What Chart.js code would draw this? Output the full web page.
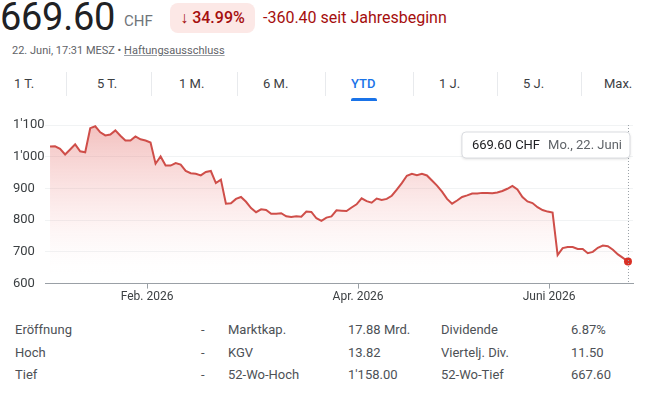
<!DOCTYPE html>
<html>
<head>
<meta charset="utf-8">
<script src="https://cdn.jsdelivr.net/npm/chart.js@4"></script>
<style>
  body { margin: 0; width: 650px; height: 396px; background: #fff; font-family: Roboto, "Open Sans", sans-serif; color: #3c4043; position: relative; overflow: hidden; }
  .price { position: absolute; left: 0; top: -5px; font-size: 38px; color: #202124; letter-spacing: -0.3px; }
  .cur { position: absolute; left: 124px; top: 12px; font-size: 15px; color: #70757a; }
  .badge { position: absolute; left: 170px; top: 3px; width: 85px; height: 30px; background: #fce8e6; border-radius: 8px; color: #a50e0e; font-size: 16px; font-weight: 500; line-height: 30px; text-align: center; }
  .chg { position: absolute; left: 263px; top: 8px; font-size: 16px; color: #a50e0e; }
  .sub { position: absolute; left: 12px; top: 44px; font-size: 11px; color: #5f6368; }
  .sub u { text-decoration-color: #9aa0a6; }
  .tab { position: absolute; top: 76px; font-size: 13px; color: #3c4043; }
  .tab.on { color: #1a73e8; font-weight: 500; }
  .sep { position: absolute; top: 72px; width: 1px; height: 24px; background: #e8eaed; }
  .bar { position: absolute; left: 351px; top: 98px; width: 26px; height: 3px; border-radius: 2px 2px 0 0; background: #1a73e8; }
  #wrap { position: absolute; left: 0; top: 110px; width: 650px; height: 195px; }
  .st { position: absolute; font-size: 13px; color: #4d5156; }
</style>
</head>
<body>
<div class="price">669.60</div>
<div class="cur">CHF</div>
<div class="badge">↓ 34.99%</div>
<div class="chg">-360.40 seit Jahresbeginn</div>
<div class="sub">22. Juni, 17:31 MESZ • <u>Haftungsausschluss</u></div>
<div id="tabs"></div>
<div class="bar"></div>
<div id="wrap"><canvas id="stockChart"></canvas></div>
<div id="stats"></div>
<script>
// one value per trading day, 5 Jan - 22 Jun 2026
const closes = [
  1032, 1033, 1025, 1007, 1023, 1039, 1017, 1014, 1090, 1096,
  1077, 1067, 1070, 1083, 1066, 1051, 1051, 1064, 1055, 1051,
  1045, 978, 1001, 972, 972, 980, 975, 955, 948, 946,
  941, 952, 955, 917, 928, 852, 853, 867, 873, 858,
  838, 825, 834, 832, 820, 820, 822, 812, 810, 812,
  811, 827, 826, 806, 798, 808, 812, 831, 830, 829,
  840, 850, 869, 860, 855, 868, 864, 867, 877, 896,
  917, 940, 946, 942, 946, 941, 925, 909, 890, 867,
  852, 862, 873, 878, 884, 884, 886, 886, 885, 887,
  892, 899, 908, 897, 873, 859, 854, 841, 832, 827,
  824, 690, 712, 715, 715, 709, 709, 696, 700, 713,
  720, 718, 707, 692, 681, 669.6
];
const days = closes.map((v, i) => i);

// month starts, as trading-day positions
const xTickAt = [19.3, 61.3, 99.3];
const xTickLabels = ['Feb. 2026', 'Apr. 2026', 'Juni 2026'];
const yTickValues = [600, 700, 800, 900, 1000, 1100];
const yTickLabels = ['600', '700', '800', '900', "1'000", "1'100"];

const tabNames = ['1 T.', '5 T.', '1 M.', '6 M.', 'YTD', '1 J.', '5 J.', 'Max.'];
const tabLeft = [14, 97, 179, 263, 351, 439, 523, 604];
const sepLeft = [66, 151, 237, 325, 413, 497, 581];

const statLabels1 = ['Eröffnung', 'Hoch', 'Tief'];
const statValues1 = ['-', '-', '-'];
const statLabels2 = ['Marktkap.', 'KGV', '52-Wo-Hoch'];
const statValues2 = ['17.88 Mrd.', '13.82', "1'158.00"];
const statLabels3 = ['Dividende', 'Viertelj. Div.', '52-Wo-Tief'];
const statValues3 = ['6.87%', '11.50', '667.60'];

const tabs = document.getElementById('tabs');
tabNames.forEach((t, i) => {
  const d = document.createElement('div');
  d.className = 'tab' + (t === 'YTD' ? ' on' : '');
  d.style.left = tabLeft[i] + 'px';
  d.textContent = t;
  tabs.appendChild(d);
});
sepLeft.forEach(x => {
  const s = document.createElement('div');
  s.className = 'sep';
  s.style.left = x + 'px';
  tabs.appendChild(s);
});

const stats = document.getElementById('stats');
const cols = [[statLabels1, 15], [statValues1, 201], [statLabels2, 228], [statValues2, 348], [statLabels3, 441], [statValues3, 571]];
cols.forEach(([arr, x]) => {
  arr.forEach((t, r) => {
    const d = document.createElement('div');
    d.className = 'st';
    d.style.left = x + 'px';
    d.style.top = (322 + r * 22.5) + 'px';
    d.textContent = t;
    stats.appendChild(d);
  });
});

const LINE = '#cf4e49';
const last = closes.length - 1;

const lastPointBox = {
  id: 'lastPointBox',
  afterDatasetsDraw(chart) {
    const { ctx, chartArea, scales } = chart;
    const px = scales.x.getPixelForValue(days[last]);
    ctx.save();
    ctx.strokeStyle = '#9aa0a6';
    ctx.lineWidth = 1;
    ctx.setLineDash([1, 2]);
    ctx.beginPath();
    ctx.moveTo(px + 0.5, chartArea.top);
    ctx.lineTo(px + 0.5, chartArea.bottom);
    ctx.stroke();
    ctx.setLineDash([]);

    ctx.font = '13px Roboto';
    const t1 = closes[last].toFixed(2) + ' CHF';
    const t2 = 'Mo., 22. Juni';
    const w1 = ctx.measureText(t1).width;
    const w2 = ctx.measureText(t2).width;
    const w = 10 + w1 + 8 + w2 + 8;
    const h = 26;
    const bx = px + 2 - w;
    const by = chartArea.top + 7;
    ctx.shadowColor = 'rgba(0,0,0,0.15)';
    ctx.shadowBlur = 3;
    ctx.shadowOffsetY = 1;
    ctx.fillStyle = '#fff';
    ctx.beginPath();
    ctx.roundRect(bx, by, w, h, 4);
    ctx.fill();
    ctx.shadowColor = 'transparent';
    ctx.strokeStyle = '#dadce0';
    ctx.stroke();
    ctx.textBaseline = 'middle';
    ctx.fillStyle = '#202124';
    ctx.fillText(t1, bx + 10, by + h / 2 + 1);
    ctx.fillStyle = '#5f6368';
    ctx.fillText(t2, bx + 10 + w1 + 8, by + h / 2 + 1);
    ctx.restore();
  }
};

const stockChart = new Chart(document.getElementById('stockChart'), {
  type: 'line',
  data: {
    labels: days,
    datasets: [{
      data: closes.map((v, i) => ({ x: days[i], y: v })),
      borderColor: LINE,
      borderWidth: 2,
      tension: 0,
      fill: 'start',
      backgroundColor: (c) => {
        const a = c.chart.chartArea;
        if (!a) return 'rgba(207,78,73,0.2)';
        const g = c.chart.ctx.createLinearGradient(0, a.top, 0, a.bottom);
        g.addColorStop(0, 'rgba(222,90,85,0.38)');
        g.addColorStop(0.6, 'rgba(240,140,140,0.12)');
        g.addColorStop(1, 'rgba(255,255,255,0)');
        return g;
      },
      pointRadius: (c) => c.dataIndex === last ? 4 : 0,
      pointBackgroundColor: '#d93025',
      pointBorderWidth: 0,
    }]
  },
  options: {
    responsive: true,
    maintainAspectRatio: false,
    animation: false,
    layout: { padding: { left: 13, right: 17, top: 15, bottom: 0 } },
    plugins: { legend: { display: false }, tooltip: { enabled: false } },
    scales: {
      x: {
        type: 'linear',
        min: -1,
        max: 116,
        afterBuildTicks: (axis) => { axis.ticks = xTickAt.map(v => ({ value: v })); },
        ticks: {
          autoSkip: false,
          maxRotation: 0,
          padding: 1,
          color: '#3c4043',
          font: { family: 'Roboto', size: 12 },
          callback: (v) => xTickLabels[xTickAt.indexOf(v)] || '',
        },
        grid: { drawOnChartArea: false, drawTicks: true, tickLength: 5, color: '#9aa0a6' },
        border: { display: true, color: '#9aa0a6' },
      },
      y: {
        min: 600,
        max: 1100,
        afterBuildTicks: (axis) => { axis.ticks = yTickValues.map(v => ({ value: v })); },
        afterFit: (axis) => { axis.width = 32; },
        ticks: {
          crossAlign: 'far',
          padding: 0,
          color: '#3c4043',
          font: { family: 'Roboto', size: 13 },
          callback: (v) => yTickLabels[yTickValues.indexOf(v)],
        },
        grid: { color: (c) => c.tick && c.tick.value === 600 ? '#9aa0a6' : '#f1f3f4', drawTicks: false },
        border: { display: false },
      }
    }
  },
  plugins: [lastPointBox]
});
</script>
</body>
</html>
